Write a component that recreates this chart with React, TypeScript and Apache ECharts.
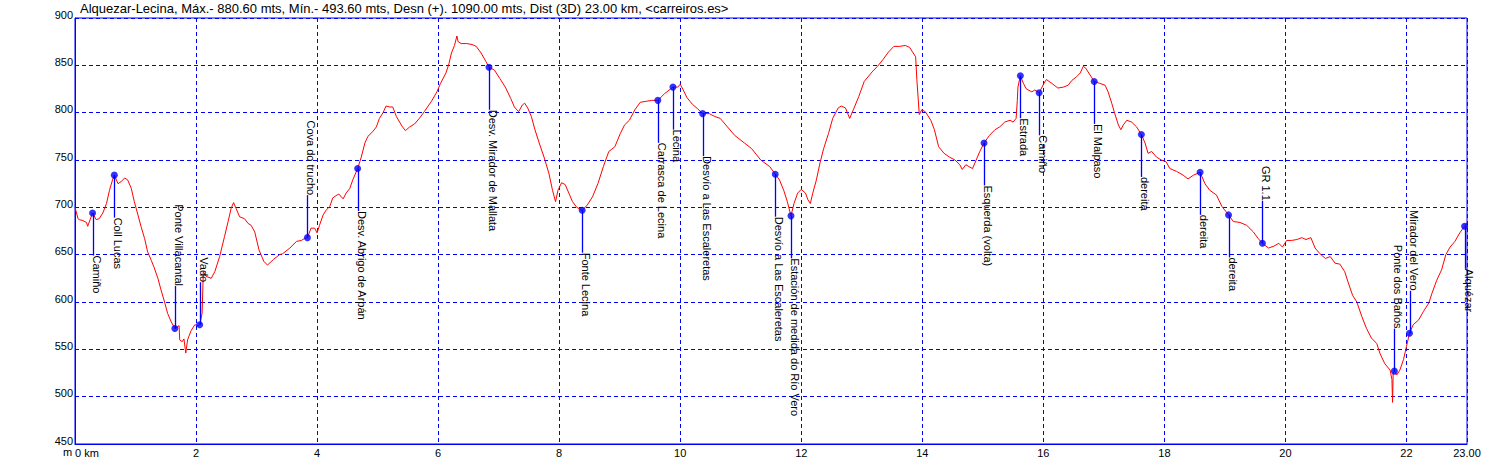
import React, { useEffect, useRef } from "react";
import * as echarts from "echarts";

const TITLE =
  "Alquezar-Lecina, Máx.- 880.60 mts, Mín.- 493.60 mts, Desn (+). 1090.00 mts, Dist (3D) 23.00 km, <carreiros.es>";

const profileDist = [
  0.0, 0.05, 0.07, 0.13, 0.19, 0.21, 0.25, 0.29, 0.35, 0.4, 0.46, 0.52, 0.57, 0.62, 0.65, 0.71, 0.76, 0.82, 0.87, 0.93,
  0.98, 1.04, 1.09, 1.15, 1.2, 1.26, 1.31, 1.37, 1.42, 1.48, 1.53, 1.59, 1.65, 1.72, 1.73, 1.77, 1.8, 1.83, 1.86, 1.92,
  1.98, 2.03, 2.06, 2.1, 2.12, 2.17, 2.25, 2.31, 2.39, 2.47, 2.53, 2.58, 2.62, 2.66, 2.72, 2.8, 2.86, 2.91, 2.97, 3.04,
  3.12, 3.18, 3.28, 3.38, 3.43, 3.55, 3.66, 3.74, 3.79, 3.84, 3.9, 3.96, 4.0, 4.04, 4.1, 4.15, 4.21, 4.26, 4.33, 4.36,
  4.43, 4.48, 4.54, 4.59, 4.67, 4.73, 4.79, 4.84, 4.92, 4.98, 5.03, 5.09, 5.14, 5.2, 5.25, 5.31, 5.4, 5.46, 5.53, 5.61,
  5.69, 5.77, 5.89, 5.98, 6.04, 6.13, 6.18, 6.22, 6.27, 6.31, 6.33, 6.38, 6.47, 6.56, 6.63, 6.71, 6.79, 6.84, 6.93, 7.02,
  7.11, 7.2, 7.26, 7.33, 7.39, 7.43, 7.48, 7.54, 7.6, 7.67, 7.75, 7.83, 7.89, 7.94, 7.98, 8.04, 8.1, 8.16, 8.22, 8.29,
  8.38, 8.46, 8.55, 8.64, 8.73, 8.82, 8.92, 9.01, 9.08, 9.16, 9.25, 9.34, 9.44, 9.53, 9.63, 9.74, 9.88, 9.96, 10.0, 10.05,
  10.11, 10.2, 10.29, 10.37, 10.48, 10.57, 10.66, 10.78, 10.9, 11.06, 11.18, 11.33, 11.48, 11.57, 11.64, 11.71, 11.77,
  11.83, 11.88, 11.94, 12.0, 12.07, 12.11, 12.15, 12.19, 12.25, 12.31, 12.37, 12.45, 12.52, 12.61, 12.66, 12.73, 12.8,
  12.86, 12.95, 13.04, 13.17, 13.26, 13.35, 13.44, 13.53, 13.62, 13.72, 13.79, 13.84, 13.89, 13.91, 13.95, 13.99, 14.05,
  14.14, 14.2, 14.27, 14.36, 14.45, 14.54, 14.62, 14.66, 14.72, 14.77, 14.83, 14.89, 14.95, 15.02, 15.11, 15.2, 15.28,
  15.36, 15.45, 15.5, 15.55, 15.57, 15.58, 15.62, 15.67, 15.72, 15.81, 15.86, 15.93, 15.97, 16.01, 16.05, 16.14, 16.24,
  16.33, 16.41, 16.47, 16.55, 16.61, 16.66, 16.7, 16.76, 16.84, 16.93, 17.02, 17.07, 17.13, 17.18, 17.24, 17.28, 17.32,
  17.38, 17.46, 17.54, 17.62, 17.68, 17.73, 17.79, 17.87, 17.95, 18.03, 18.09, 18.2, 18.31, 18.39, 18.48, 18.59, 18.67,
  18.75, 18.86, 18.95, 19.06, 19.14, 19.25, 19.36, 19.47, 19.55, 19.62, 19.72, 19.81, 19.89, 19.95, 20.02, 20.1, 20.19,
  20.27, 20.34, 20.42, 20.49, 20.57, 20.66, 20.74, 20.82, 20.9, 20.98, 21.04, 21.11, 21.18, 21.26, 21.34, 21.42, 21.51,
  21.56, 21.64, 21.73, 21.76, 21.77, 21.78, 21.8, 21.84, 21.89, 21.95, 22.0, 22.05, 22.11, 22.2, 22.28, 22.37, 22.42,
  22.5, 22.58, 22.65, 22.72, 22.8, 22.88, 22.96, 23.0,
];

const profileElev = [
  700, 688, 687, 686, 684, 680, 687, 694, 687, 688, 694, 704, 718, 729, 734, 725, 727, 731, 729, 720,
  706, 692, 680, 667, 653, 644, 636, 625, 613, 600, 588, 579, 572, 575, 560, 558, 561, 546, 560, 570,
  576, 575, 576, 588, 632, 627, 625, 632, 648, 669, 685, 699, 705, 699, 690, 688, 683, 681, 674, 655,
  643, 639, 645, 650, 651, 657, 664, 665, 667, 668, 678, 678, 673, 681, 692, 697, 701, 710, 713, 714,
  709, 715, 720, 729, 741, 753, 768, 775, 780, 785, 794, 800, 807, 806, 806, 796, 786, 781, 785, 788,
  794, 801, 812, 822, 831, 842, 852, 863, 871, 881, 875, 873, 873, 872, 870, 863, 854, 848, 845, 836,
  827, 815, 806, 801, 808, 810, 805, 796, 782, 768, 753, 736, 718, 706, 718, 726, 724, 715, 706, 700,
  697, 702, 711, 725, 743, 759, 764, 778, 787, 792, 803, 811, 812, 813, 813, 820, 827, 827, 830, 824,
  816, 809, 804, 799, 799, 796, 794, 785, 776, 768, 762, 750, 743, 735, 729, 718, 706,
  691, 704, 715, 719, 715, 708, 704, 715, 729, 747, 762, 778, 794, 805, 807, 805, 794,
  803, 817, 833, 843, 849, 856, 864, 870, 870, 871, 869, 864, 859, 835, 798, 803, 801,
  792, 782, 764, 757, 753, 750, 745, 740, 745, 743, 741, 750, 759, 768, 776, 782, 785,
  790, 792, 790, 794, 813, 827, 839, 831, 825, 822, 824, 821, 826, 831, 835, 831, 826,
  827, 829, 834, 838, 842, 849, 847, 841, 833, 831, 829, 822, 810, 799, 787, 782, 787,
  792, 790, 785, 777, 768, 757, 759, 753, 750, 748, 741, 738, 734, 730, 734, 737, 725,
  718, 713, 701, 692, 685, 684, 681, 674, 667, 662, 657, 659, 662, 658, 665, 665, 666,
  668, 666, 668, 657, 651, 646, 648, 641, 640, 632, 620, 607, 600, 585, 572, 562, 556,
  546, 535, 528, 518, 494, 525, 527, 523, 528, 539, 553, 567, 576, 581, 590, 599, 609,
  623, 634, 650, 658, 664, 673, 680, 684,
];

const waypointNames = [
  "Camiño", "Coll Lucas", "Ponte Villacantal", "Vado", "Cova do trucho", "Desv. Abrigo de Arpán",
  "Desv. Mirador de Mallata", "Fonte Lecina", "Carrasca de Lecina", "Lecina", "Desvío a Las Escaleretas",
  "Desvío a Las Escaleretas", "Estación de medida do Río Vero", "Esquerda (volta)", "Estrada", "Camiño",
  "El Malpaso", "dereita", "dereita", "dereita", "GR 1.1", "Ponte dos Baños", "Mirador del Vero", "Alquézar",
];
const waypointDist = [
  0.29, 0.65, 1.65, 2.06, 3.84, 4.67, 6.84, 8.38, 9.63, 9.88, 10.37, 11.57, 11.83, 15.02, 15.62, 15.93,
  16.84, 17.62, 18.59, 19.06, 19.62, 21.8, 22.05, 22.96,
];
const waypointElev = [
  694, 734, 572, 576, 668, 741, 848, 697, 813, 827, 799, 735, 691, 768, 839, 821,
  833, 777, 737, 692, 662, 527, 567, 680,
];
const waypointSide = [
  "down", "down", "up", "up", "up", "down", "down", "down", "down", "down", "down", "down", "down", "down",
  "down", "down", "down", "down", "down", "down", "up", "up", "up", "down",
];

const xMin = 0;
const xMax = 23;
const xStep = 2;
const yMin = 450;
const yMax = 900;
const yStep = 50;

const BLUE = "#0000ff";
const FONT = "Arial, 'Liberation Sans', sans-serif";
const STICK = 42.5;

export default function App() {
  const ref = useRef<HTMLDivElement>(null);

  useEffect(() => {
    if (!ref.current) return;
    const chart = echarts.init(ref.current, null, { renderer: "svg" });
    const profile = profileDist.map((d, i) => [d, profileElev[i]]);
    const waypoints = waypointDist.map((d, i) => [d, waypointElev[i]]);

    chart.setOption({
      animation: false,
      backgroundColor: "#ffffff",
      grid: {
        left: 75,
        right: 38,
        top: 18,
        bottom: 23,
        show: true,
        borderColor: BLUE,
        borderWidth: 1,
        containLabel: false,
      },
      xAxis: {
        type: "value",
        min: xMin,
        max: xMax,
        interval: xStep,
        axisLine: { show: true, lineStyle: { color: BLUE, width: 1 } },
        axisTick: { show: false },
        splitLine: { show: true, lineStyle: { color: BLUE, width: 1, type: [4, 3] } },
        axisLabel: {
          color: "#000",
          fontSize: 11,
          fontFamily: FONT,
          margin: 3,
          showMinLabel: true,
          showMaxLabel: true,
          alignMinLabel: "left",
          formatter: (v: number) => (v === 0 ? "0 km" : v === 23 ? "23.00" : String(v)),
        },
      },
      yAxis: {
        type: "value",
        min: yMin,
        max: yMax,
        interval: yStep,
        axisLine: { show: true, lineStyle: { color: BLUE, width: 1 } },
        axisTick: { show: false },
        splitLine: { show: true, lineStyle: { color: BLUE, width: 1, type: [4, 3] } },
        axisLabel: {
          color: "#000",
          fontSize: 11,
          fontFamily: FONT,
          margin: 2,
          verticalAlign: "bottom",
          lineHeight: 7,
        },
      },
      graphic: [
        {
          type: "text",
          left: 80,
          top: 2,
          style: { text: TITLE, fill: "#000", font: `13px ${FONT}` },
        },
        {
          type: "text",
          left: 63,
          top: 446,
          style: { text: "m", fill: "#000", font: `11px ${FONT}` },
        },
      ],
      series: [
        {
          type: "line",
          data: profile,
          showSymbol: false,
          symbol: "none",
          lineStyle: { color: "#ff0000", width: 1 },
          z: 2,
          silent: true,
        },
        {
          type: "custom",
          data: waypoints,
          z: 3,
          silent: true,
          itemStyle: { color: BLUE },
          renderItem: (params: any, api: any) => {
            const i = params.dataIndex;
            const p = api.coord([api.value(0), api.value(1)]);
            const up = waypointSide[i] === "up";
            const x = Math.round(p[0]) + 0.5;
            const endY = up ? p[1] - STICK : p[1] + STICK;
            return {
              type: "group",
              children: [
                {
                  type: "line",
                  shape: { x1: x, y1: p[1], x2: x, y2: endY },
                  style: { stroke: "rgb(0,0,255)", lineWidth: 1.3, fill: null },
                },
                {
                  type: "text",
                  x: x + 3,
                  y: endY,
                  rotation: -Math.PI / 2,
                  style: {
                    text: waypointNames[i],
                    fill: "#000",
                    font: `11px ${FONT}`,
                    align: up ? "right" : "left",
                    verticalAlign: "middle",
                  },
                },
              ],
            };
          },
        },
        {
          type: "scatter",
          data: waypoints,
          symbol: "circle",
          symbolSize: 7,
          itemStyle: { color: BLUE },
          z: 4,
          silent: true,
        },
      ],
    });

    return () => chart.dispose();
  }, []);

  return (
    <div
      ref={ref}
      style={{ position: "fixed", left: 0, top: 0, width: 1505, height: 467, background: "#fff" }}
    />
  );
}
